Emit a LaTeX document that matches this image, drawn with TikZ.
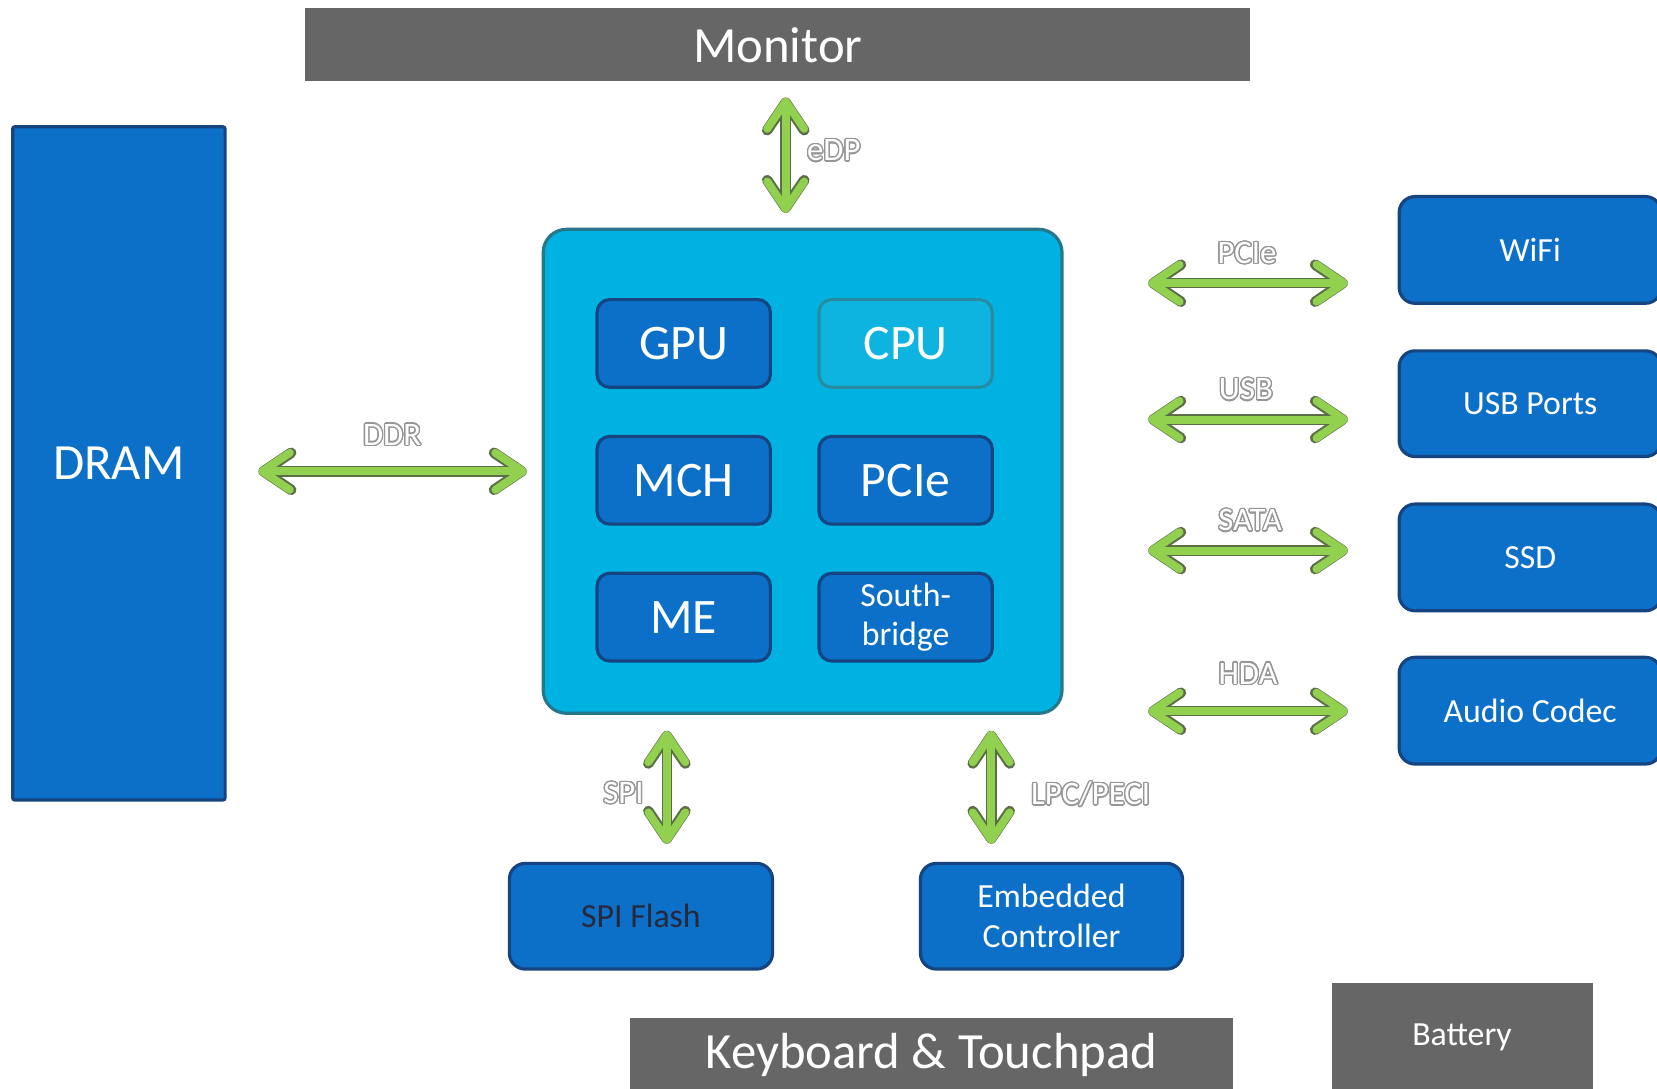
\documentclass[tikz,border=0pt]{standalone}
\usepackage{fontspec}
\setmainfont{Carlito}
\usepackage{contour}
\contourlength{1.2pt}
\contournumber{24}
\usetikzlibrary{arrows.meta}

\definecolor{bargray}{RGB}{102,102,102}
\definecolor{socfill}{RGB}{0,178,226}
\definecolor{socline}{RGB}{38,118,140}
\definecolor{blockfill}{RGB}{12,112,200}
\definecolor{blockline}{RGB}{22,68,128}
\definecolor{cpufill}{RGB}{14,180,224}
\definecolor{cpuline}{RGB}{40,140,160}
\definecolor{busgreen}{RGB}{146,208,80}
\definecolor{busline}{RGB}{92,110,72}
\definecolor{labelgray}{RGB}{150,150,150}
\definecolor{flashtext}{RGB}{40,40,60}

\newcommand{\fsize}[2]{\fontsize{#1}{#2}\selectfont}

\begin{document}
\begin{tikzpicture}%
	[x=1pt, y=-1pt,
	bar/.style={fill=bargray, text=white, inner sep=0pt},
	soc/.style={fill=socfill, draw=socline, line width=3pt, rounded corners=22pt, inner sep=0pt},
	core/.style={fill=blockfill, draw=blockline, line width=3pt, rounded corners=12pt, text=white,
		minimum width=164pt, minimum height=83pt, inner sep=0pt, font=\fsize{47}{50}},
	cpucore/.style={core, fill=cpufill, draw=cpuline},
	periph/.style={fill=blockfill, draw=blockline, line width=3pt, rounded corners=15pt, text=white,
		minimum width=248pt, minimum height=100pt, inner sep=0pt, align=center, font=\fsize{32}{38}},
	bus/.style={color=busgreen, line width=7.5pt, line cap=round,
		{Straight Barb[length=26pt, width=35pt, round]}-{Straight Barb[length=26pt, width=35pt, round]},
		preaction={draw=busline, line width=10pt}},
	busname/.style={text=white, inner sep=0pt, font=\fsize{31}{34}}]
	%
	\fill[white] (0,0) rectangle (1568,1030);
	\useasboundingbox (0,0) rectangle (1568,1030);
	%%
	%% Gray bars
	%%
	\node[bar, minimum width=894pt, minimum height=69pt, font=\fsize{48}{52}] (monitor) at (736,42.5) {Monitor};
	\node[bar, minimum width=571pt, minimum height=70pt, font=\fsize{48}{52}] (keyboard) at (881.5,998) {Keyboard \& Touchpad};
	\node[bar, minimum width=247pt, minimum height=104pt, font=\fsize{32}{36}] (battery) at (1383.5,982) {Battery};
	%%
	%% Memory
	%%
	\node[fill=blockfill, draw=blockline, line width=3pt, rounded corners=2pt, text=white,
		minimum width=201pt, minimum height=637pt, font=\fsize{48}{52}] (dram) at (112.5,438.5) {DRAM};
	%%
	%% The chip and its blocks
	%%
	\node[soc, minimum width=491pt, minimum height=458pt] (soc) at (759.5,446) {};
	\node[core] (gpu) at (647,325) {GPU};
	\node[cpucore] (cpu) at (857,325) {CPU};
	\node[core] (mch) at (647,454.5) {MCH};
	\node[core] (pcie) at (857,454.5) {PCIe};
	\node[core] (me) at (647,584) {ME};
	\node[core, align=center, font=\fsize{32}{37}] (sb) at (857,584) {South-\\bridge};
	%%
	%% Peripherals
	%%
	\node[periph, minimum height=101pt] (wifi) at (1448,236.5) {WiFi};
	\node[periph] (usb) at (1448,382) {USB Ports};
	\node[periph, minimum height=101pt] (ssd) at (1448,527.5) {SSD};
	\node[periph, minimum height=101pt] (audio) at (1448,672.5) {Audio Codec};
	\node[periph, minimum width=249pt, text=flashtext] (spiflash) at (606.5,867) {SPI Flash};
	\node[periph] (ec) at (995,867) {Embedded\\Controller};
	%%
	%% Buses
	%%
	\coordinate (edp) at ([xshift=-16pt]soc.north);
	\coordinate (pcieR) at ([yshift=-31.5pt]wifi.west);
	\coordinate (usbR) at ([yshift=-15pt]usb.west);
	\coordinate (sataR) at ([yshift=6.5pt]ssd.west);
	\coordinate (hdaR) at ([yshift=-0.5pt]audio.west);
	\coordinate (spiT) at ([xshift=24.5pt]spiflash.north);
	\coordinate (lpcT) at ([xshift=-57pt]ec.north);

	\draw[bus, shorten <=14pt, shorten >=15pt] (edp) -- (edp |- monitor.south);
	\draw[bus, shorten <=30pt, shorten >=14pt] (dram.east |- soc.west) -- (soc.west);
	\draw[bus, shorten <=80pt, shorten >=47pt] (pcieR -| soc.east) -- (pcieR);
	\draw[bus, shorten <=80pt, shorten >=47pt] (usbR -| soc.east) -- (usbR);
	\draw[bus, shorten <=80pt, shorten >=47pt] (sataR -| soc.east) -- (sataR);
	\draw[bus, shorten <=80pt, shorten >=47pt] (hdaR -| soc.east) -- (hdaR);
	\draw[bus, shorten <=15pt, shorten >=17pt] (spiT |- soc.south) -- (spiT);
	\draw[bus, shorten <=15pt, shorten >=17pt] (lpcT |- soc.south) -- (lpcT);
	%%
	%% Bus names
	%%
	\node[busname] (edpname) at (789,143) {\contour{labelgray}{eDP}};
	\node[busname] (ddrname) at (371,412) {\contour{labelgray}{DDR}};
	\node[busname] (pciename) at (1180,240) {\contour{labelgray}{PCIe}};
	\node[busname] (usbname) at (1179,369) {\contour{labelgray}{USB}};
	\node[busname] (sataname) at (1183,493) {\contour{labelgray}{SATA}};
	\node[busname] (hdaname) at (1181,638) {\contour{labelgray}{HDA}};
	\node[busname] (spiname) at (590,751) {\contour{labelgray}{SPI}};
	\node[busname] (lpcname) at (1032,752) {\contour{labelgray}{LPC/PECI}};

\end{tikzpicture}
\end{document}
